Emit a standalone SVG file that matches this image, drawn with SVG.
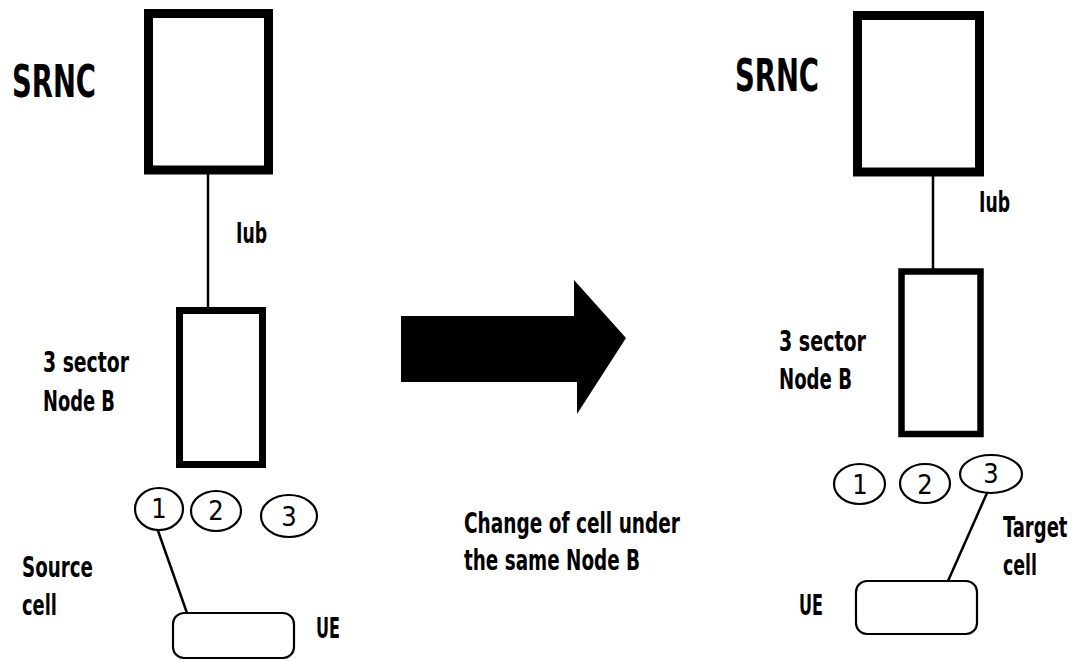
<svg xmlns="http://www.w3.org/2000/svg" width="1076" height="661" viewBox="0 0 1076 661">
<style>
.t{font-family:"DejaVu Sans Condensed","DejaVu Sans",sans-serif;font-weight:bold;fill:#000}
.big{font-size:44px}
.lab{font-size:29px}
.dig{font-family:"DejaVu Sans Condensed","DejaVu Sans",sans-serif;font-size:27px;fill:#000;text-anchor:middle}
.box{fill:#fff;stroke:#000}
.cell{fill:#fff;stroke:#000;stroke-width:2.2}
.ln{stroke:#000;stroke-width:2.5;fill:none}
</style>
<rect width="1076" height="661" fill="#fff"/>
<g id="connectors">
<line class="ln" x1="208" y1="174" x2="208" y2="308"/>
<line class="ln" x1="157" y1="528" x2="187" y2="613"/>
<line class="ln" x1="933" y1="176" x2="933" y2="269"/>
<line class="ln" x1="987" y1="493" x2="948" y2="581"/>
</g>
<g id="srnc-left">
<rect class="box" x="148.5" y="13.5" width="120" height="156.5" stroke-width="9"/>
<text class="t big" x="12" y="97" textLength="84" lengthAdjust="spacingAndGlyphs">SRNC</text>
</g>
<g id="iub-left"><text class="t lab" x="236" y="243" textLength="31" lengthAdjust="spacingAndGlyphs">Iub</text></g>
<g id="nodeb-left">
<rect class="box" x="179.5" y="310.5" width="83" height="154" stroke-width="7"/>
<text class="t lab" x="43" y="372" textLength="86" lengthAdjust="spacingAndGlyphs">3 sector</text>
<text class="t lab" x="43" y="411" textLength="72" lengthAdjust="spacingAndGlyphs">Node B</text>
</g>
<g id="cells-left">
<ellipse class="cell" cx="159" cy="509" rx="24" ry="21"/>
<text class="dig" x="159" y="518">1</text>
<ellipse class="cell" cx="216" cy="511" rx="25" ry="20"/>
<text class="dig" x="216" y="520">2</text>
<ellipse class="cell" cx="289" cy="516" rx="28" ry="21"/>
<text class="dig" x="289" y="526">3</text>
</g>
<g id="source-label">
<text class="t lab" x="22" y="577" textLength="71" lengthAdjust="spacingAndGlyphs">Source</text>
<text class="t lab" x="22" y="615" textLength="35" lengthAdjust="spacingAndGlyphs">cell</text>
</g>
<g id="ue-left">
<rect class="cell" x="173" y="613" width="121" height="45" rx="11"/>
<text class="t lab" x="316" y="638" textLength="24" lengthAdjust="spacingAndGlyphs">UE</text>
</g>
<g id="arrow">
<polygon points="401,316 574,316 574,280 626,338 577,414 577,382 401,382" fill="#000"/>
<text class="t lab" x="464" y="533" textLength="216" lengthAdjust="spacingAndGlyphs">Change of cell under</text>
<text class="t lab" x="464" y="570" textLength="176" lengthAdjust="spacingAndGlyphs">the same Node B</text>
</g>
<g id="srnc-right">
<rect class="box" x="857.5" y="15.5" width="122" height="156.5" stroke-width="9"/>
<text class="t big" x="735" y="91" textLength="84" lengthAdjust="spacingAndGlyphs">SRNC</text>
</g>
<g id="iub-right"><text class="t lab" x="979" y="212" textLength="31" lengthAdjust="spacingAndGlyphs">Iub</text></g>
<g id="nodeb-right">
<rect class="box" x="901.5" y="271.5" width="79" height="162.5" stroke-width="6.5"/>
<text class="t lab" x="779" y="351" textLength="87" lengthAdjust="spacingAndGlyphs">3 sector</text>
<text class="t lab" x="779" y="389" textLength="73" lengthAdjust="spacingAndGlyphs">Node B</text>
</g>
<g id="cells-right">
<ellipse class="cell" cx="859.5" cy="484" rx="25.5" ry="20"/>
<text class="dig" x="860" y="494">1</text>
<ellipse class="cell" cx="925" cy="483.5" rx="25" ry="19.5"/>
<text class="dig" x="925" y="494">2</text>
<ellipse class="cell" cx="991" cy="474" rx="31" ry="19"/>
<text class="dig" x="991" y="483">3</text>
</g>
<g id="target-label">
<text class="t lab" transform="translate(1003 537) scale(0.75 1)" x="0" y="0" textLength="86" lengthAdjust="spacingAndGlyphs">Target</text>
<text class="t lab" x="1003" y="575" textLength="34" lengthAdjust="spacingAndGlyphs">cell</text>
</g>
<g id="ue-right">
<rect class="cell" x="856" y="581" width="121" height="53" rx="11"/>
<text class="t lab" x="799" y="615" textLength="24" lengthAdjust="spacingAndGlyphs">UE</text>
</g>
</svg>
